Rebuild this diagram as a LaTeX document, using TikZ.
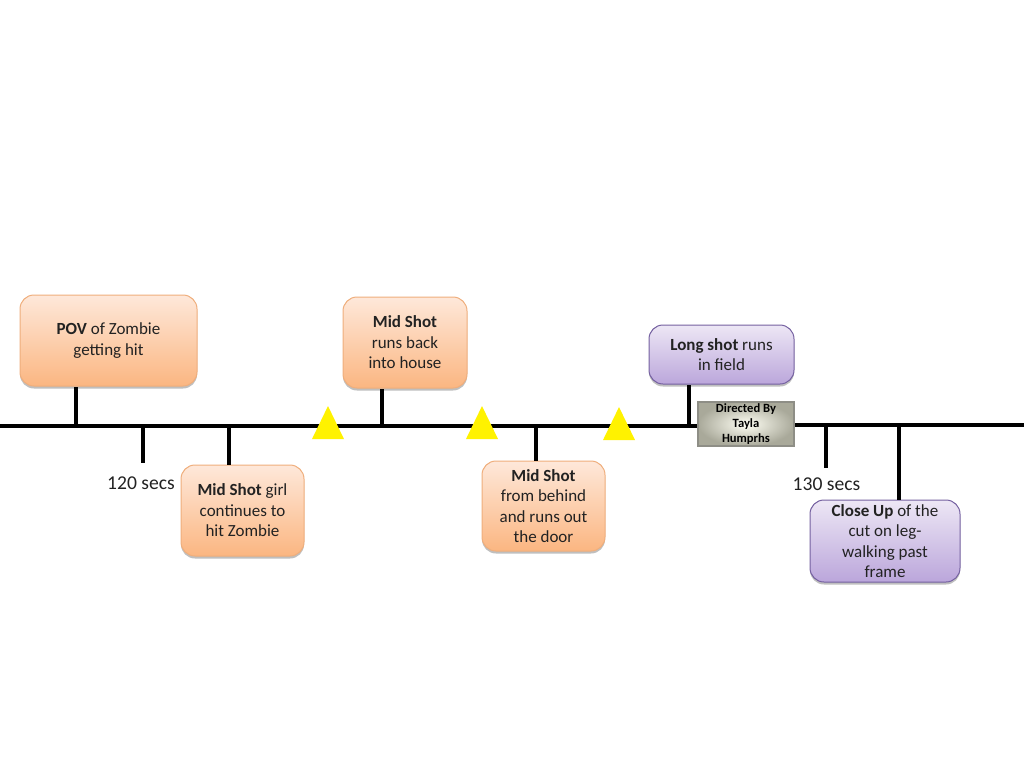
\documentclass[tikz,border=0pt]{standalone}
\usepackage{fontspec}
\setmainfont{Carlito}
\usetikzlibrary{shapes.geometric,shadows,positioning}
\definecolor{orangetop}{HTML}{FEE8DA}
\definecolor{orangebot}{HTML}{FBB681}
\definecolor{orangeline}{HTML}{EFAE7C}
\definecolor{purpletop}{HTML}{EDE7F5}
\definecolor{purplebot}{HTML}{BBA6DB}
\definecolor{purpleline}{HTML}{7460A0}
\definecolor{inktext}{HTML}{222222}
\definecolor{creditedge}{HTML}{8E8E86}
\definecolor{creditfade}{HTML}{A9A99A}
\definecolor{creditfill}{HTML}{FFFFF4}
\tikzset{
    shot/.style={rectangle, rounded corners=14pt, align=center, inner sep=0pt,
        text=inktext, font=\fontsize{17}{20.5}\selectfont,
        drop shadow={shadow xshift=0pt, shadow yshift=-2.5pt, opacity=0.25, fill=black}},
    orangeshot/.style={shot, draw=orangeline, line width=1pt, top color=orangetop, bottom color=orangebot},
    purpleshot/.style={shot, draw=purpleline, line width=1pt, top color=purpletop, bottom color=purplebot},
    stem/.style={line width=4pt, black},
    marker/.style={isosceles triangle, shape border rotate=90, isosceles triangle stretches,
        minimum width=32pt, minimum height=33pt, inner sep=0pt, fill=yellow},
    credit/.style={rectangle, draw=creditedge, line width=2.5pt, inner color=creditfill,
        outer color=creditfade, align=center, inner sep=0pt, text=black,
        minimum width=96pt, minimum height=44pt,
        font=\fontsize{12.6}{15}\selectfont\bfseries},
    timelabel/.style={text=inktext, font=\fontsize{19.6}{20}\selectfont},
}
\begin{document}
\begin{tikzpicture}[x=1pt, y=1pt]
    \useasboundingbox (0,0) rectangle (1024,-768);
    % timeline ends
    \coordinate (line_in) at (0,-426);
    \coordinate (line_out) at (1024,-425);
    % shots above the line
    \node[orangeshot, minimum width=177pt, minimum height=91pt] (box_pov) at (108.5,-340.5)
        {\textbf{POV} of Zombie\\getting hit};
    \node[orangeshot, minimum width=124pt, minimum height=91pt] (box_house) at (405,-342.5)
        {\textbf{Mid Shot}\\runs back\\into house};
    \node[purpleshot, minimum width=145pt, minimum height=59pt] (box_field) at (721.5,-354.5)
        {\textbf{Long shot} runs\\in field};
    % shots below the line
    \node[orangeshot, minimum width=123pt, minimum height=91pt] (box_girl) at (242.5,-510.5)
        {\textbf{Mid Shot} girl\\continues to\\hit Zombie};
    \node[orangeshot, minimum width=123pt, minimum height=90pt] (box_door) at (543.5,-506)
        {\textbf{Mid Shot}\\from behind\\and runs out\\the door};
    \node[purpleshot, minimum width=150pt, minimum height=82pt] (box_leg) at (885,-541)
        {\textbf{Close Up} of the\\cut on leg-\\walking past\\frame};
    % credit
    \node[credit] (box_credit) at (746,-424) {Directed By\\Tayla\\Humprhs};
    % tick points on the line
    \coordinate (tick_pov) at (76,-426);
    \coordinate (tick_120) at (143,-424);
    \coordinate (tick_girl) at (229,-426);
    \coordinate (tick_house) at (382,-425);
    \coordinate (tick_door) at (536,-425);
    \coordinate (tick_field) at (689,-425);
    \coordinate (tick_130) at (826,-427);
    \coordinate (tick_leg) at (899,-425);
    % free ends of the time ticks
    \coordinate[below=39pt of tick_120] (end_120);
    \coordinate[below=41pt of tick_130] (end_130);
    % draw timeline
    \draw[stem] (line_in) -- (box_credit.west |- line_in);
    \draw[stem] (box_credit.east |- line_out) -- (line_out);
    % draw ticks
    \draw[stem] (tick_pov) -- (tick_pov |- box_pov.south);
    \draw[stem] (tick_120) -- (end_120);
    \draw[stem] (tick_girl) -- (tick_girl |- box_girl.north);
    \draw[stem] (tick_house) -- (tick_house |- box_house.south);
    \draw[stem] (tick_door) -- (tick_door |- box_door.north);
    \draw[stem] (tick_field) -- (tick_field |- box_field.south);
    \draw[stem] (tick_130) -- (end_130);
    \draw[stem] (tick_leg) -- (tick_leg |- box_leg.north);
    % triangles on the line
    \node[marker] (mark_a) at (328,-429) {};
    \node[marker] (mark_b) at (482,-429) {};
    \node[marker] (mark_c) at (619,-430) {};
    % add labels
    \node[timelabel] (label_120) at (141,-483) {120 secs};
    \node[timelabel] (label_130) at (826.5,-484) {130 secs};
\end{tikzpicture}
\end{document}
